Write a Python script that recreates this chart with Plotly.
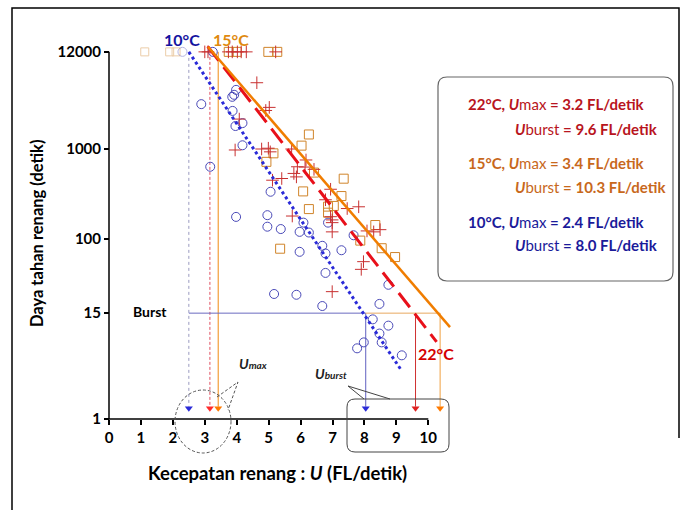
import plotly.graph_objects as go

W, H = 688, 510
# pixel calibration of the axes (x: 0 at 109 px, 31.93 px per unit; y: 1 at 419 px, 90 px per decade)
X0_PX, X_PER = 109, 31.93
Y1_PX, Y_PER_DEC = 419, 90.0

# ---------------- data ----------------
# 10°C  (open blue circles)
c10_x = [2.89, 3.17, 3.25, 3.98, 3.92, 3.86, 3.87, 3.96, 4.18, 4.18, 5.06, 3.98, 4.96, 4.96, 5.38,
         6.09, 5.97, 6.26, 5.97, 6.68, 6.78, 7.28, 6.86, 6.78, 7.66, 5.17, 5.87, 6.68, 8.75, 8.47,
         8.26, 8.75, 8.47, 8.54, 7.98, 7.77, 9.17]
c10_y = [3150, 635, 12000, 4540, 4000, 3800, 2650, 1800, 1940, 1100, 335, 176, 184, 137, 129,
         152, 120, 118, 72, 84, 69, 75, 152, 42, 110, 24.5, 24, 18, 31, 19,
         12.8, 10.9, 8.9, 7.1, 7.1, 6.1, 5.1]

# 15°C  (open orange squares)
s15_x = [3.75, 4.0, 4.99, 5.27, 6.26, 6.03, 5.15, 4.93, 7.35, 6.08, 6.42, 7.28, 6.26, 6.86, 6.86,
         7.04, 5.36, 8.34, 7.87, 8.54, 8.96]
s15_y = [12000, 12000, 12000, 12000, 1450, 1090, 895, 720, 468, 338, 547, 300, 215, 229, 196,
         233, 78, 143, 96, 79, 63]

# 22°C  (red crosses)
p22_x = [3.0, 3.1, 3.74, 3.86, 4.02, 4.14, 4.30, 5.22, 4.63, 5.02, 4.91, 4.08, 3.95, 4.78, 4.99,
         5.05, 5.72, 5.90, 5.79, 5.87, 6.17, 6.14, 6.42, 5.41, 5.12, 6.94, 6.78, 7.46, 7.82, 6.94,
         6.99, 5.74, 6.99, 6.99, 8.08, 8.29, 8.49, 7.97, 7.90, 6.99]
p22_y = [12000, 12000, 12000, 12000, 12000, 12000, 12000, 12000, 5450, 2900, 2680, 2150, 975, 1000, 1020,
         930, 1000, 635, 535, 490, 755, 630, 594, 470, 450, 357, 273, 218, 228, 177,
         163, 180, 152, 120, 123, 120, 127, 56, 46, 26]

# faded (non-fatigued) fish at the 12000 s ceiling
faded_sq_x = [1.12, 1.9, 2.1]
faded_sq_y = [12000, 12000, 12000]
faded_c_x = [2.3]
faded_c_y = [12000]

# fitted lines (start / end)
line10_x, line10_y = [2.5, 9.15], [12000, 3.5]
line22_x, line22_y = [3.09, 10.26], [13800, 7.2]
line15_x, line15_y = [3.1, 10.68], [13700, 10.5]

# critical speeds as drawn  (order: 10, 22, 15 °C)
umax_pos = [2.5, 3.16, 3.42]
uburst_pos = [8.04, 9.6, 10.37]
burst_level = 15
ceiling = 12000
arrow_tip = 1.32

x_ticks = list(range(0, 11))
y_ticks = [1, 15, 100, 1000, 12000]
y_ticktext = ["1", "15", "100", "1000", "12000"]

legend_lines = [
    ("22°C", "3.2", "9.6"),
    ("15°C", "3.4", "10.3"),
    ("10°C", "2.4", "8.0"),
]

# ---------------- styles ----------------
BLUE = "#2a2ad8"
BLUE_MK = "#4a4ab8"
RED = "#e8101a"
RED_MK = "#c83030"
ORANGE = "#f07d00"
ORANGE_MK = "#d0842a"
FONT = "Lato"


def pxx(px):
    return px / W


def pxy(py):
    return 1 - py / H


fig = go.Figure()

# thin vertical reference lines + arrowheads
vstyles = [
    (umax_pos[0], ceiling, "#9a9ac0", "dot"),
    (umax_pos[1], ceiling, "#e05060", "3px,2px"),
    (umax_pos[2], ceiling, "#f08a10", "solid"),
    (uburst_pos[0], burst_level, "#6060c0", "solid"),
    (uburst_pos[1], burst_level, "#d03030", "solid"),
    (uburst_pos[2], burst_level, "#f0a040", "solid"),
]
head_cols = [BLUE, "#ff2a2a", "#ff7a00", BLUE, "#e02020", "#ff7a00"]
for (xv, top, col, dash), hc in zip(vstyles, head_cols):
    fig.add_trace(go.Scatter(x=[xv, xv], y=[top, arrow_tip + 0.05], mode="lines",
                             line=dict(color=col, width=1, dash=dash), hoverinfo="skip"))
    fig.add_trace(go.Scatter(x=[xv], y=[arrow_tip], mode="markers",
                             marker=dict(symbol="triangle-down", size=7, color=hc), hoverinfo="skip"))

# horizontal burst line
fig.add_trace(go.Scatter(x=[umax_pos[0], uburst_pos[0]], y=[burst_level, burst_level], mode="lines",
                         line=dict(color="#6a6ac0", width=1), hoverinfo="skip"))
fig.add_trace(go.Scatter(x=[uburst_pos[0], uburst_pos[2]], y=[burst_level, burst_level], mode="lines",
                         line=dict(color="#e8a860", width=1), hoverinfo="skip"))

# faded points
fig.add_trace(go.Scatter(x=faded_sq_x, y=faded_sq_y, mode="markers", opacity=0.4,
                         marker=dict(symbol="square-open", size=8, color=ORANGE_MK, line=dict(width=1))))
fig.add_trace(go.Scatter(x=faded_c_x, y=faded_c_y, mode="markers", opacity=0.4,
                         marker=dict(symbol="circle-open", size=9, color=BLUE_MK, line=dict(width=1))))

# data markers
fig.add_trace(go.Scatter(x=c10_x, y=c10_y, mode="markers",
                         marker=dict(symbol="circle-open", size=9, color=BLUE_MK, line=dict(width=1))))
fig.add_trace(go.Scatter(x=s15_x, y=s15_y, mode="markers",
                         marker=dict(symbol="square-open", size=9, color=ORANGE_MK, line=dict(width=1))))
fig.add_trace(go.Scatter(x=p22_x, y=p22_y, mode="markers",
                         marker=dict(symbol="cross-thin-open", size=9, color=RED_MK, line=dict(width=1, color=RED_MK))))

# fitted lines
fig.add_trace(go.Scatter(x=line10_x, y=line10_y, mode="lines", line=dict(color=BLUE, width=3, dash="dot")))
fig.add_trace(go.Scatter(x=line22_x, y=line22_y, mode="lines", line=dict(color=RED, width=3, dash="18px,8px")))
fig.add_trace(go.Scatter(x=line15_x, y=line15_y, mode="lines", line=dict(color=ORANGE, width=2.5)))

shapes = []
# axis lines
shapes.append(dict(type="line", xref="x", yref="y", x0=0, x1=0, y0=1, y1=ceiling,
                   line=dict(color="black", width=1.5)))
shapes.append(dict(type="line", xref="x", yref="y", x0=-0.15, x1=10, y0=1, y1=1,
                   line=dict(color="black", width=1.5)))
# outer frame (top, left, right)
shapes.append(dict(type="path", xref="paper", yref="paper",
                   path=f"M {pxx(12)} {pxy(515)} L {pxx(12)} {pxy(8)} L {pxx(679)} {pxy(8)} L {pxx(679)} {pxy(438)}",
                   line=dict(color="black", width=1.5)))


def rrect(x0, y0, x1, y1, r):
    return (f"M {pxx(x0 + r)} {pxy(y0)} L {pxx(x1 - r)} {pxy(y0)} Q {pxx(x1)} {pxy(y0)} {pxx(x1)} {pxy(y0 + r)} "
            f"L {pxx(x1)} {pxy(y1 - r)} Q {pxx(x1)} {pxy(y1)} {pxx(x1 - r)} {pxy(y1)} "
            f"L {pxx(x0 + r)} {pxy(y1)} Q {pxx(x0)} {pxy(y1)} {pxx(x0)} {pxy(y1 - r)} "
            f"L {pxx(x0)} {pxy(y0 + r)} Q {pxx(x0)} {pxy(y0)} {pxx(x0 + r)} {pxy(y0)} Z")


# legend box
shapes.append(dict(type="path", xref="paper", yref="paper", path=rrect(438, 77, 673, 281, 9),
                   line=dict(color="#666666", width=1.2)))
# Uburst callout box
shapes.append(dict(type="path", xref="paper", yref="paper", path=rrect(347, 399, 449, 452, 8),
                   line=dict(color="#444444", width=1)))
shapes.append(dict(type="path", xref="paper", yref="paper",
                   path=f"M {pxx(364)} {pxy(399)} L {pxx(348)} {pxy(386)} L {pxx(390)} {pxy(399)}",
                   line=dict(color="#444444", width=1)))
# Umax dashed circle callout
shapes.append(dict(type="circle", xref="paper", yref="paper", x0=pxx(175), x1=pxx(231), y0=pxy(453), y1=pxy(390),
                   line=dict(color="#555555", width=1, dash="3px,2px")))
shapes.append(dict(type="path", xref="paper", yref="paper",
                   path=f"M {pxx(217)} {pxy(397)} L {pxx(238)} {pxy(382)} L {pxx(228)} {pxy(410)}",
                   line=dict(color="#555555", width=1, dash="3px,2px")))

ann = []


def txt(text, x, y, size, color, xanchor="center", angle=0):
    ann.append(dict(text=text, x=pxx(x), y=pxy(y), xref="paper", yref="paper", showarrow=False,
                    xanchor=xanchor, yanchor="middle", textangle=angle,
                    font=dict(family=FONT, size=size, color=color)))


txt("<b>10°C</b>", 182, 40, 16, "#1414a0")
txt("<b>15°C</b>", 231, 40, 16, "#e08a10")
txt("<b>22°C</b>", 436, 353, 16, "#d40000")
txt("<b>Burst</b>", 150, 311, 14, "black")
txt("<b><i>U<span style='font-size:10px'>max</span></i></b>", 253, 363, 14, "#222222")
txt("<b><i>U<span style='font-size:10px'>burst</span></i></b>", 331, 373, 14, "#222222")
txt("<b>Daya tahan renang (detik)</b>", 37, 234, 16.5, "black", angle=-90)
txt("<b>Kecepatan renang : <i>U</i> (FL/detik)</b>", 277, 473, 18.5, "black")

leg_cols = ["#b81420", "#c8681c", "#1a1a9a"]
leg_y = [104, 129, 163, 187, 222, 245]
for i, ((t, um, ub), col) in enumerate(zip(legend_lines, leg_cols)):
    txt(f"<b>{t}, <i>U</i></b>max<b> = {um} FL/detik</b>", 466, leg_y[2 * i], 15, col, xanchor="left")
    txt(f"<b><i>U</i></b>burst<b> = {ub} FL/detik</b>", 513, leg_y[2 * i + 1], 15, col, xanchor="left")

fig.update_layout(
    width=W, height=H, margin=dict(l=0, r=0, t=0, b=0),
    plot_bgcolor="white", paper_bgcolor="white", showlegend=False,
    shapes=shapes, annotations=ann,
    xaxis=dict(range=[-X0_PX / X_PER, (W - X0_PX) / X_PER], anchor="free", position=1 - Y1_PX / H,
               tickvals=x_ticks, ticks="outside", ticklen=5, tickwidth=1.5, tickcolor="black",
               showline=False, showgrid=False, zeroline=False,
               tickfont=dict(family=FONT, size=15, color="black", weight="bold")),
    yaxis=dict(type="log", range=[-(H - Y1_PX) / Y_PER_DEC, Y1_PX / Y_PER_DEC], anchor="free",
               position=X0_PX / W, tickvals=y_ticks, ticktext=y_ticktext, ticks="outside", ticklen=5,
               tickwidth=1.5, tickcolor="black", showline=False, showgrid=False, zeroline=False,
               tickfont=dict(family=FONT, size=15, color="black", weight="bold")),
)

fig.write_html("out.html", post_script="document.body.style.margin='0px';",
               config={"displayModeBar": False})
